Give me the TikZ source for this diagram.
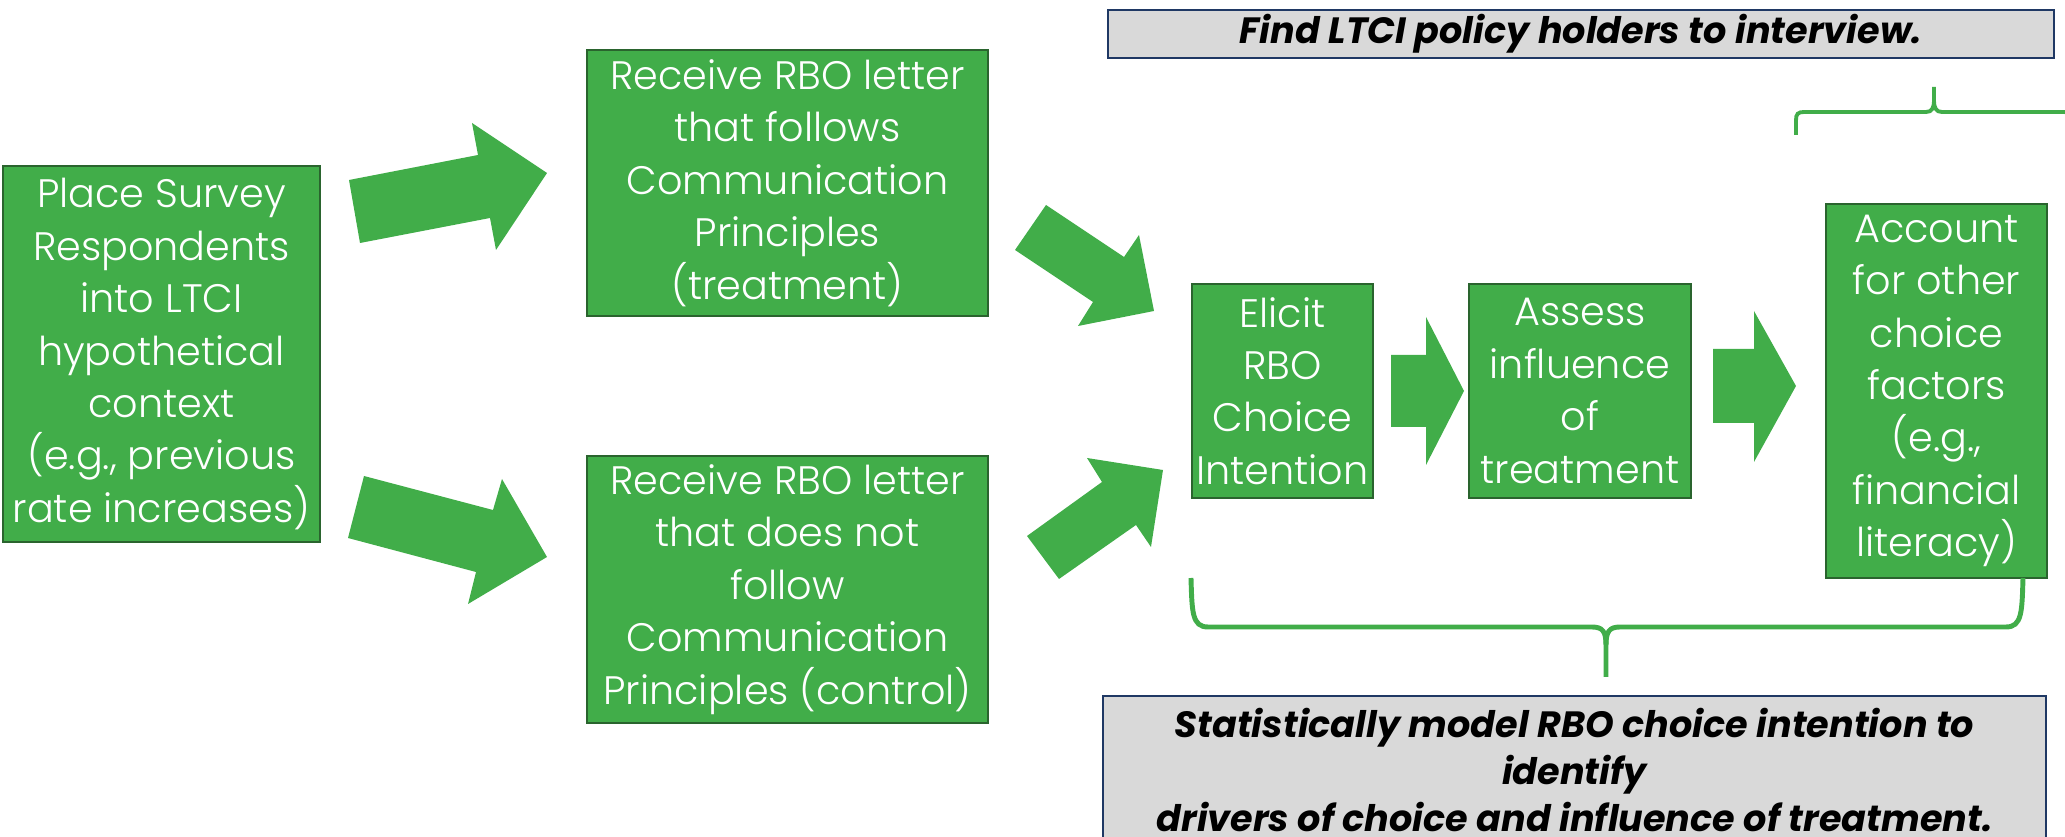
\documentclass[tikz,border=0pt]{standalone}
\usepackage{fontspec}
\setmainfont{Poppins Light}
\newfontfamily\capfont{Poppins Bold Italic}
\definecolor{boxgreen}{RGB}{65,173,73}
\definecolor{boxedge}{RGB}{42,100,46}
\definecolor{capgray}{RGB}{217,217,217}
\definecolor{capedge}{RGB}{31,56,100}
\tikzset{
  gbox/.style={draw=boxedge, line width=0.7pt, fill=boxgreen, text=white,
    align=center, inner sep=0pt, font=\fontsize{11.3}{14.9}\selectfont},
  capbox/.style={draw=capedge, line width=0.6pt, fill=capgray, text=black,
    align=center, inner sep=0pt, font=\capfont\fontsize{10.4}{13.4}\selectfont},
  blockarrow/.style={fill=boxgreen},
  brace/.style={draw=boxgreen, line width=1.4pt},
  smallbrace/.style={draw=boxgreen, line width=1.1pt}
}
\begin{document}
\begin{tikzpicture}[x=0.01cm, y=-0.01cm]
\useasboundingbox (0,0) rectangle (2065,837);
\clip (0,0) rectangle (2065,837);

% process boxes
\node[gbox, minimum width=3.17cm, minimum height=3.76cm] (place) at (161.5,354)
  {Place Survey\\Respondents\\into LTCI\\hypothetical\\context\\(e.g., previous\\rate increases)};
\node[gbox, minimum width=4.01cm, minimum height=2.66cm] (follow) at (787.5,183)
  {Receive RBO letter\\that follows\\Communication\\Principles\\(treatment)};
\node[gbox, minimum width=4.01cm, minimum height=2.67cm] (nofollow) at (787.5,589.5)
  {Receive RBO letter\\that does not\\follow\\Communication\\Principles (control)};
\node[gbox, minimum width=1.81cm, minimum height=2.14cm] (elicit) at (1282.5,391)
  {Elicit\\RBO\\Choice\\Intention};
\node[gbox, minimum width=2.22cm, minimum height=2.14cm] (assess) at (1580,391)
  {Assess\\influence\\of\\treatment};
\node[gbox, minimum width=2.21cm, minimum height=3.74cm] (account) at (1936.5,391)
  {Account\\for other\\choice\\factors\\(e.g.,\\financial\\literacy)};

% caption boxes
\node[capbox, minimum width=9.45cm, minimum height=0.48cm] (find) at (1581,34)
  {Find LTCI policy holders to interview.};
\node[capbox, minimum width=9.43cm, minimum height=1.48cm] (model) at (1574.5,770)
  {Statistically model RBO choice intention to\\identify\\drivers of choice and influence of treatment.};

% block arrows
\fill[blockarrow] (349,180) -- (478,155) -- (472,123) -- (547,173) -- (496,250) -- (490,218) -- (360,243) -- cycle;
\fill[blockarrow] (364,476) -- (493,510) -- (502,479) -- (547,557) -- (468,604) -- (476,572) -- (348,538) -- cycle;
\fill[blockarrow] (1046,205) -- (1124,257) -- (1139,235) -- (1154,311) -- (1078,326) -- (1093,302) -- (1015,250) -- cycle;
\fill[blockarrow] (1027,536) -- (1102,482) -- (1087,458) -- (1163,470) -- (1151,547) -- (1136,525) -- (1059,579) -- cycle;
\fill[blockarrow] (1391,355) -- (1426,355) -- (1426,317) -- (1464,391) -- (1426,465) -- (1426,427) -- (1391,427) -- cycle;
\fill[blockarrow] (1713,349) -- (1754,349) -- (1754,311) -- (1796,386) -- (1754,462) -- (1754,423) -- (1713,423) -- cycle;

% brace under the modelling steps
\draw[brace] (1191,578) .. controls (1192,612) and (1192,627) .. (1208,627) -- (1592,627)
  .. controls (1603,627) and (1606,632) .. (1606,645) -- (1606,677);
\draw[brace] (2023,578) .. controls (2022,612) and (2022,627) .. (2006,627) -- (1620,627)
  .. controls (1609,627) and (1606,632) .. (1606,645);

% brace above the last step
\draw[smallbrace] (1796,135) -- (1796,120) .. controls (1796,114) and (1798,112) .. (1804,112)
  -- (1926,112) .. controls (1932,112) and (1934,108) .. (1934,100) -- (1934,87);
\draw[smallbrace] (2072,135) -- (2072,120) .. controls (2072,114) and (2070,112) .. (2064,112)
  -- (1942,112) .. controls (1936,112) and (1934,108) .. (1934,100);
\end{tikzpicture}
\end{document}
